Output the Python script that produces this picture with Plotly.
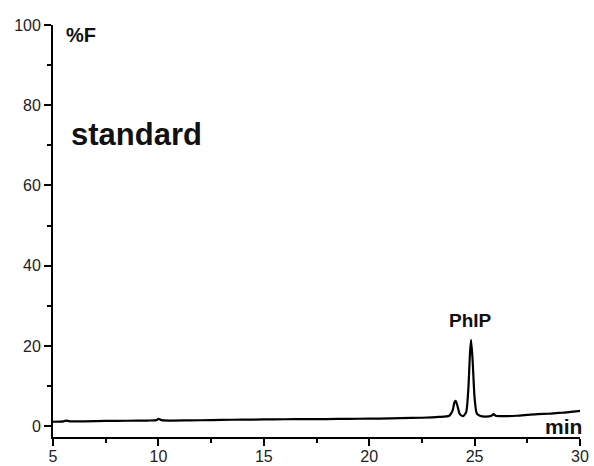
import plotly.graph_objects as go

time_min = [5.0, 5.5, 5.6, 5.8, 6.5, 7.5, 8.5, 9.5, 9.9, 10.0, 10.15, 10.5, 11.5, 12.5,
            13.5, 14.5, 15.5, 16.5, 17.5, 18.5, 19.5, 20.5, 21.5, 22.5, 23.3, 23.8,
            23.95, 24.05, 24.1, 24.18, 24.3, 24.45, 24.6, 24.7, 24.78, 24.83, 24.9,
            25.0, 25.1, 25.25, 25.5, 25.8, 25.9, 26.0, 26.3, 27.0, 27.5, 28.0, 28.5,
            29.0, 29.5, 30.0]
fluor = [1.1, 1.2, 1.4, 1.2, 1.2, 1.3, 1.35, 1.4, 1.5, 1.8, 1.5, 1.4, 1.45, 1.5,
         1.6, 1.65, 1.7, 1.75, 1.75, 1.8, 1.85, 1.9, 2.0, 2.1, 2.3, 2.6,
         3.8, 6.0, 6.3, 5.2, 3.0, 2.5, 3.5, 9.0, 18.0, 21.5, 17.0,
         7.0, 3.2, 2.6, 2.4, 2.6, 3.0, 2.6, 2.5, 2.6, 2.8, 3.0, 3.1,
         3.3, 3.5, 3.8]

x_ticks = [5, 10, 15, 20, 25, 30]
y_ticks = [0, 20, 40, 60, 80, 100]

fig = go.Figure()
fig.add_trace(go.Scatter(x=time_min, y=fluor, mode="lines",
                         line=dict(color="black", width=2.2, shape="spline", smoothing=0.6),
                         showlegend=False, hoverinfo="skip"))

axis_font = dict(family="Liberation Sans, Arial, sans-serif", size=16, color="#222")

fig.update_layout(
    width=594, height=466,
    margin=dict(l=53, r=14, t=25, b=29),
    paper_bgcolor="white", plot_bgcolor="white",
    xaxis=dict(range=[5, 30], tickvals=x_ticks, ticks="outside", ticklen=7,
               tickwidth=1.8, tickcolor="black", showline=True, linecolor="black",
               linewidth=1.8, showgrid=False, zeroline=False, tickfont=axis_font,
               automargin=False, ticklabelstandoff=-3,
               minor=dict(dtick=2.5, ticks="outside", ticklen=4, tickwidth=1.8,
                          tickcolor="black", showgrid=False)),
    yaxis=dict(range=[-2.7, 100], tickvals=y_ticks, ticks="outside", ticklen=7,
               tickwidth=1.8, tickcolor="black", showline=True, linecolor="black",
               linewidth=1.8, showgrid=False, zeroline=False, tickfont=axis_font,
               automargin=False,
               minor=dict(tickvals=[10, 30, 50, 70, 90], ticks="outside", ticklen=4,
                          tickwidth=1.8, tickcolor="black", showgrid=False)),
)

bold = "Liberation Sans, Arial, sans-serif"
fig.add_annotation(x=5.5, y=97.5, text="<b>%F</b>", showarrow=False, xanchor="left",
                   yanchor="middle", font=dict(family=bold, size=20, color="#111"))
fig.add_annotation(x=5.78, y=72.6, text="<b>standard</b>", showarrow=False,
                   xanchor="left", yanchor="middle",
                   font=dict(family=bold, size=31, color="#111"))
fig.add_annotation(x=24.8, y=26.4, text="<b>PhIP</b>", showarrow=False,
                   xanchor="center", yanchor="middle",
                   font=dict(family=bold, size=19, color="#111"))
fig.add_annotation(x=30, y=0.0, xshift=4, text="<b>min</b>", showarrow=False,
                   xanchor="right", yanchor="middle",
                   font=dict(family=bold, size=21, color="#111"))

fig.write_html("out.html", config={"displayModeBar": False},
               post_script="document.body.style.margin='0px';document.body.style.overflow='hidden';")
